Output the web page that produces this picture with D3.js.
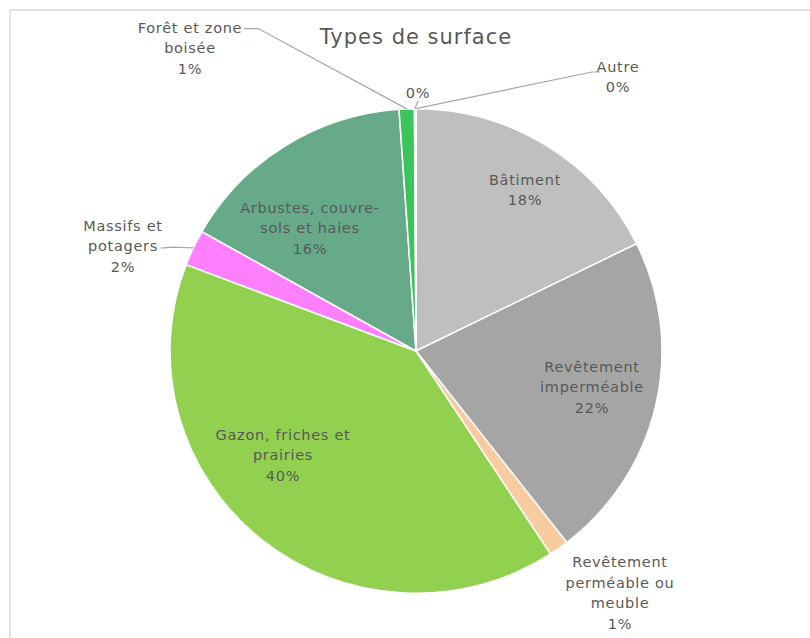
<!DOCTYPE html>
<html><head><meta charset="utf-8">
<script src="https://cdn.jsdelivr.net/npm/d3@7"></script>
<style>
html,body{margin:0;padding:0;background:#fff;}
text{font-family:"DejaVu Sans",sans-serif;fill:#595959;}
</style></head>
<body><svg id="c" width="810" height="638"></svg>
<script>
const title = "Types de surface";
const categories = ["Bâtiment","Revêtement imperméable","Revêtement perméable ou meuble","Gazon, friches et prairies","Massifs et potagers","Arbustes, couvre-sols et haies","Forêt et zone boisée","","Autre"];
const values = [17.7, 21.8, 1.3, 40.0, 2.4, 15.7, 1.0, 0.05, 0.05];
const labelLines = [["Bâtiment"],["Revêtement","imperméable"],["Revêtement","perméable ou","meuble"],["Gazon, friches et","prairies"],["Massifs et","potagers"],["Arbustes, couvre-","sols et haies"],["Forêt et zone","boisée"],[],["Autre"]];
const colors = ["#bfbfbf","#a5a5a5","#f8cba0","#92d050","#ff80ff","#66aa8a","#3cc45c","#3cc45c","#bfbfbf"];

// layout (label anchor positions, centre of text block)
const labelPos = [[525,190],[592,387],[620,593],[283,455],[123,246],[310,228],[190,48],[418,93],[618,77]];

const svg = d3.select("#c");
svg.append("rect").attr("x",10).attr("y",10).attr("width",820).attr("height",650)
  .attr("fill","none").attr("stroke","#e3e3e3").attr("stroke-width",2);

const cx = 416, cy = 351, R = 246, sy = 0.985;
const total = d3.sum(values);
const pie = d3.pie().sort(null).value(d=>d)(values);
const arc = d3.arc().innerRadius(0).outerRadius(R);

const g = svg.append("g").attr("transform",`translate(${cx},${cy}) scale(1,${sy})`);
g.selectAll("path").data(pie).join("path")
  .attr("d",arc).attr("fill",(d,i)=>colors[i])
  .attr("stroke","#fff").attr("stroke-width",1.5).attr("stroke-linejoin","round");

svg.append("text").attr("x",416).attr("y",38).attr("text-anchor","middle")
  .attr("dominant-baseline","middle").style("font-size","21px").style("letter-spacing","1px").text(title);

function edgePoint(d, frac){
  const a = d.startAngle + (d.endAngle-d.startAngle)*frac;
  return [cx + R*Math.sin(a), cy - R*Math.cos(a)*sy];
}

const lh = 20.5;
const firstSpans = [];
pie.forEach((d,i)=>{
  const pct = Math.round(values[i]/total*100) + "%";
  const lines = labelLines[i].concat([pct]);
  const [x,y] = labelPos[i];
  const t = svg.append("text").attr("text-anchor","middle").style("font-size","14.5px").style("letter-spacing","0.7px");
  const y0 = y - (lines.length-1)*lh/2;
  const spans = lines.map((s,k)=> t.append("tspan").attr("x",x).attr("y",y0+k*lh).attr("dy","0.35em").text(s));
  firstSpans[i] = spans;
});

function spanRight(i,k){
  const n = firstSpans[i][k].node();
  const b = n.getBBox();
  return [b.x + b.width, b.y + b.height/2];
}

const line = d3.line();
const [fx,fy] = spanRight(6,0);
const [mx,my] = spanRight(4,1);
const leaders = [
  {i:6, pts:[[fx+2,fy+1],[fx+16,fy+1]]},
  {i:7, pts:[[418,101]]},
  {i:8, pts:[[600,72],[592,72]]},
  {i:4, pts:[[mx+3,my+2],[mx+14,my+1]]}
];
leaders.forEach(l=>{
  const p = l.pts.concat([edgePoint(pie[l.i], 0.5)]);
  svg.append("path").attr("d",line(p)).attr("fill","none")
    .attr("stroke","#a6a6a6").attr("stroke-width",1.2);
});
</script></body></html>
